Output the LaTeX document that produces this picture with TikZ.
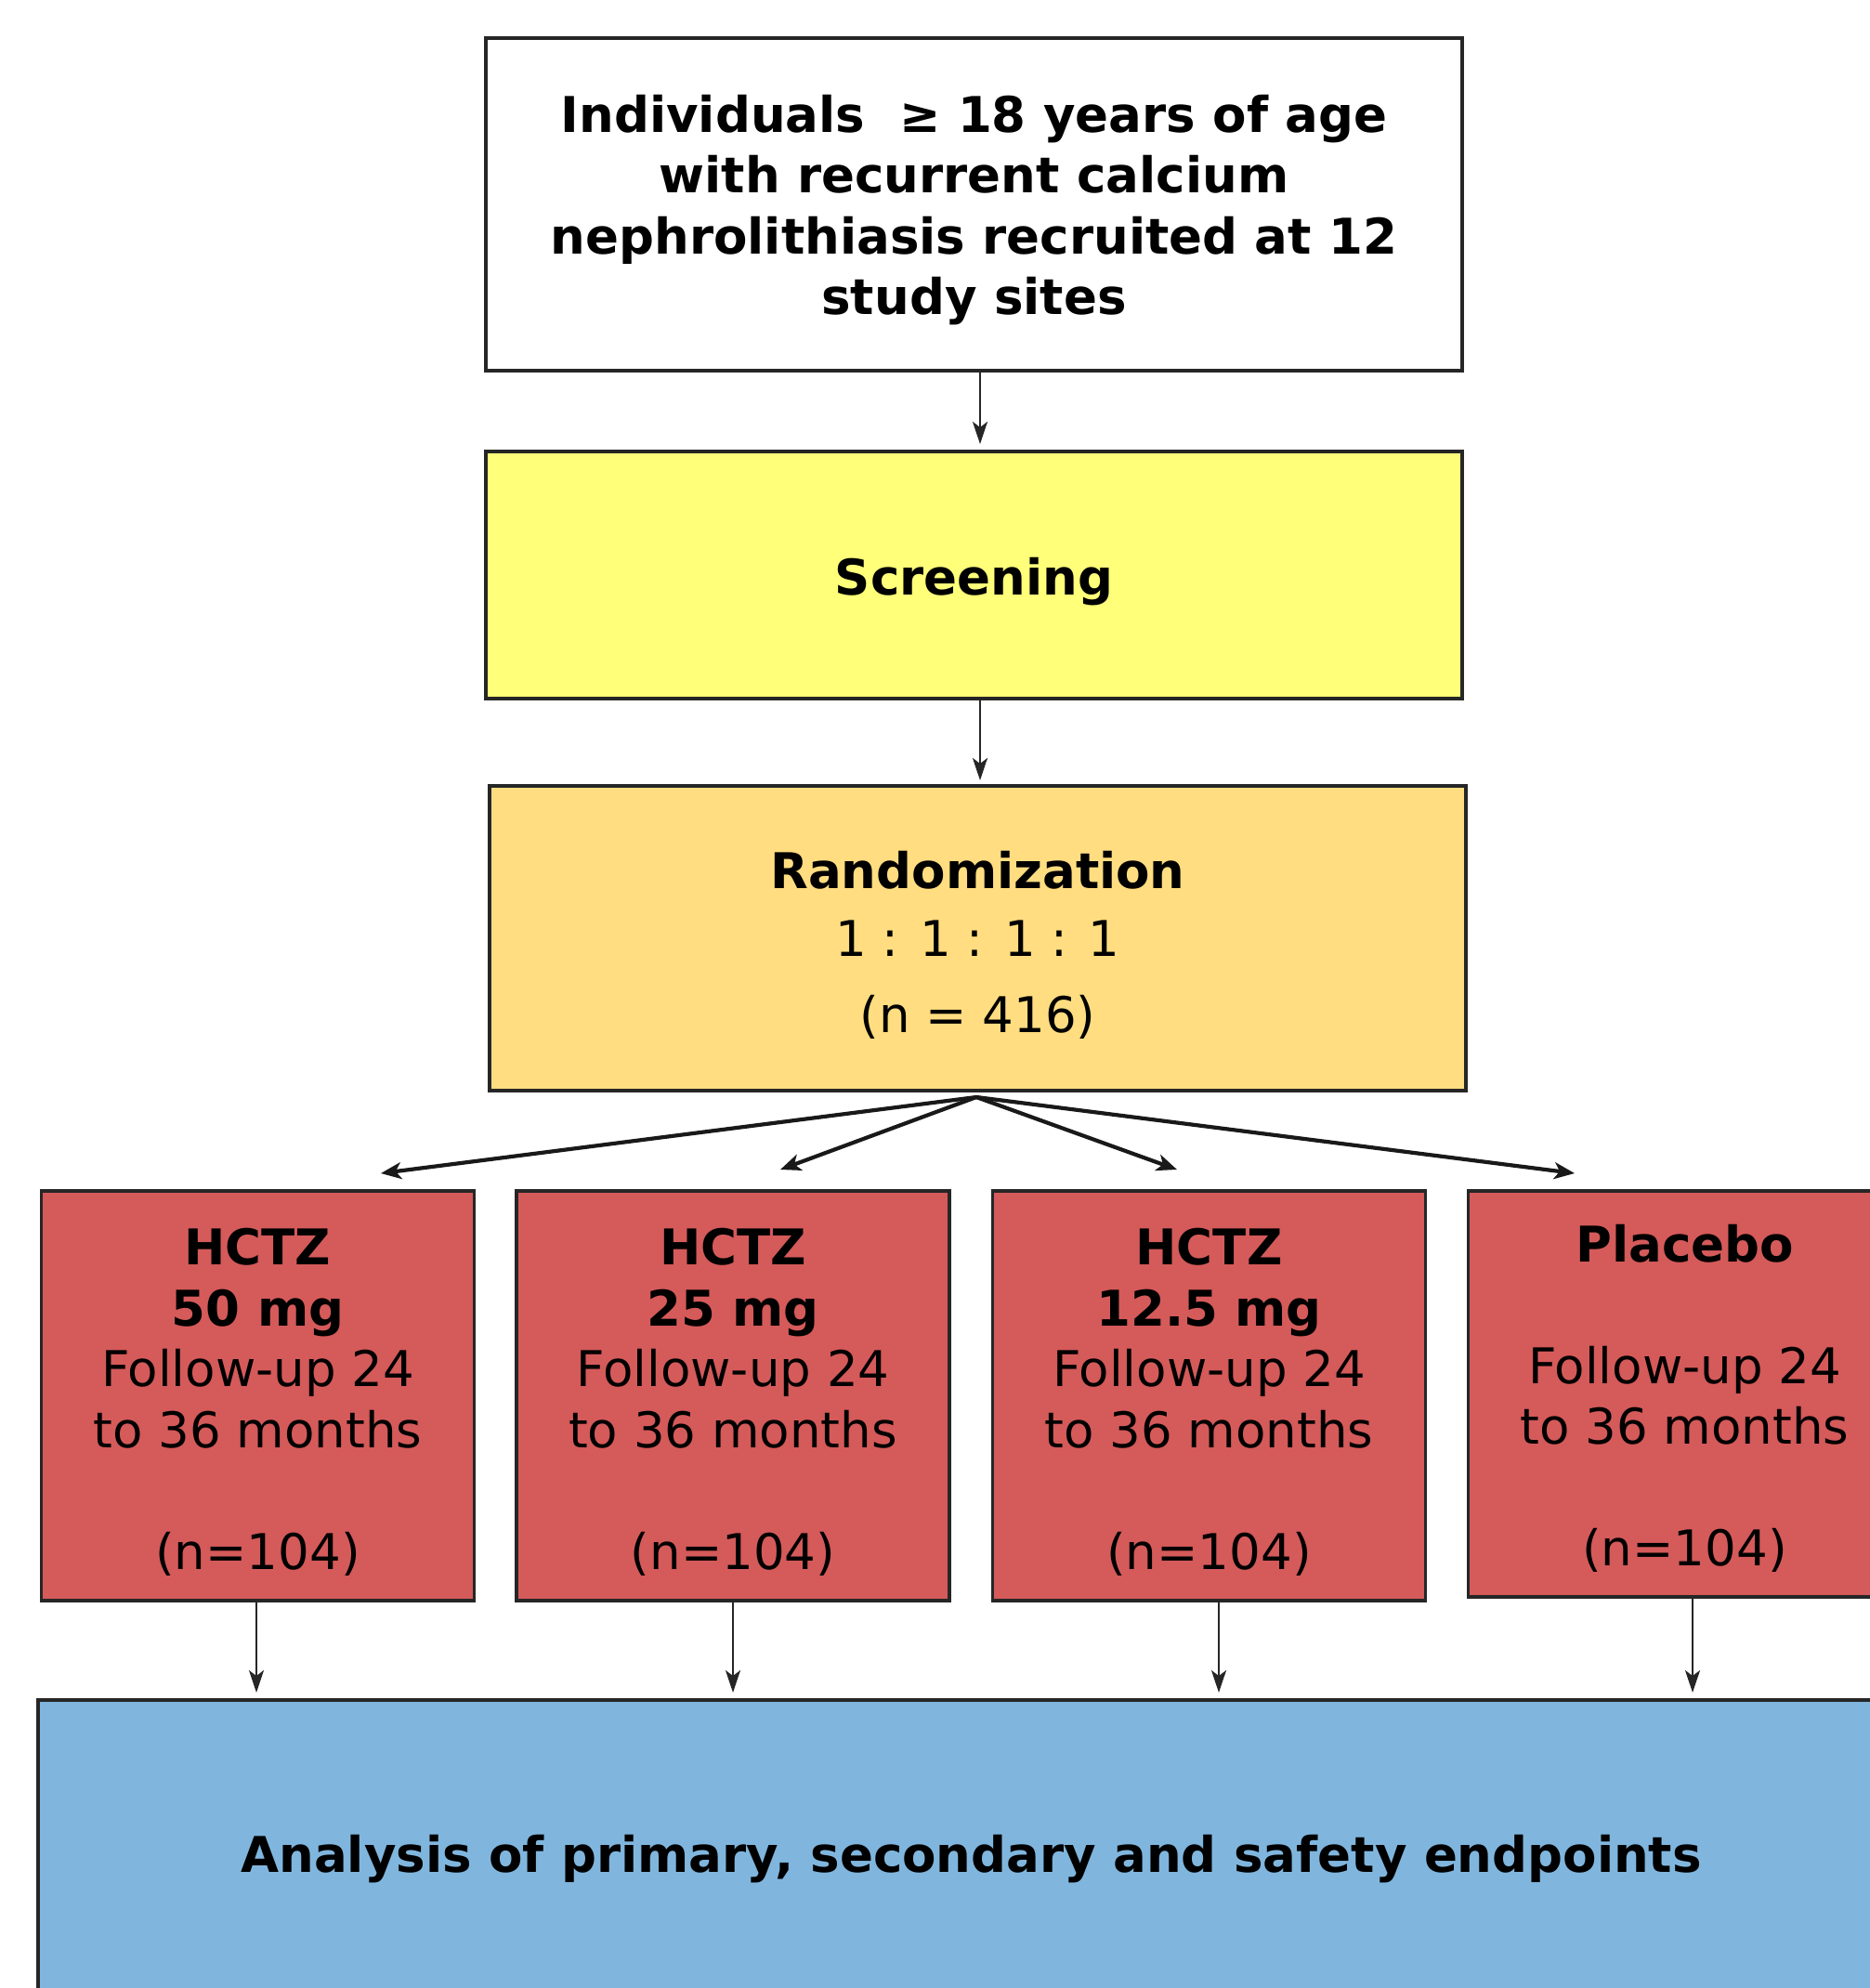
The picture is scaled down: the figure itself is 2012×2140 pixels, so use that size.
\documentclass[tikz,border=0pt]{standalone}
\usepackage{fontspec}
\setmainfont{DejaVu Sans}
\usetikzlibrary{arrows.meta}
\definecolor{yel}{RGB}{255,255,122}
\definecolor{ora}{RGB}{255,221,128}
\definecolor{redb}{RGB}{213,90,90}
\definecolor{blu}{RGB}{128,182,222}
\begin{document}
\begin{tikzpicture}[x=0.5pt,y=-0.5pt,
  box/.style={draw=black!85, line width=1.9pt, inner sep=0pt},
  txt/.style={align=center, inner sep=0pt, font=\fontsize{26.5}{32.75}\selectfont},
  btxt/.style={txt, font=\fontsize{26.5}{32.75}\selectfont\bfseries},
  arm/.style={box, fill=redb, minimum height=220.5pt, minimum width=233pt},
  arr/.style={-{Stealth[length=12pt,width=8pt,inset=3pt]}, line width=1.3pt, draw=black!85},
  farr/.style={-{Stealth[length=11pt,width=9pt,inset=3pt]}, line width=2.1pt, draw=black!90}]
\useasboundingbox (0,0) rectangle (2012,2140);

% boxes
\node[box, minimum width=525.5pt, minimum height=179pt] (top) at (1048.5,220) {};
\node[box, fill=yel, minimum width=525.5pt, minimum height=133pt] (scr) at (1048.5,619) {};
\node[box, fill=ora, minimum width=525.5pt, minimum height=164pt] (rnd) at (1052.5,1010) {};
\node[arm] (a1) at (277.5,1502.5) {};
\node[arm] (a2) at (789,1502.5) {};
\node[arm] (a3) at (1301.5,1502.5) {};
\node[arm, minimum height=218.5pt] (a4) at (1813.5,1500.5) {};
\node[box, fill=blu, minimum width=1004.5pt, minimum height=167pt] (ana) at (1045.5,1997) {};

% texts
\node[btxt] (topT) at ([yshift=-3pt]top.center) {Individuals \ ≥ 18 years of age\\with recurrent calcium\\nephrolithiasis recruited at 12\\study sites};
\node[btxt] (scrT) at ([yshift=-3.5pt]scr.center) {Screening};
\node[txt] (rndT) at ([yshift=-3.5pt]rnd.center) {\textbf{Randomization}\\[4pt]1 : 1 : 1 : 1\\[8pt](n = 416)};
\node[txt] (a1T) at ([yshift=-3.5pt]a1.center) {\textbf{HCTZ}\\\textbf{50 mg}\\Follow-up 24\\to 36 months\\[32.75pt](n=104)};
\node[txt] (a2T) at ([yshift=-3.5pt]a2.center) {\textbf{HCTZ}\\\textbf{25 mg}\\Follow-up 24\\to 36 months\\[32.75pt](n=104)};
\node[txt] (a3T) at ([yshift=-3.5pt]a3.center) {\textbf{HCTZ}\\\textbf{12.5 mg}\\Follow-up 24\\to 36 months\\[32.75pt](n=104)};
\node[txt] (a4T) at ([yshift=-2.5pt]a4.center) {\textbf{Placebo}\\[32.75pt]Follow-up 24\\to 36 months\\[32.75pt](n=104)};
\node[btxt] (anaT) at ([yshift=-2pt]ana.center) {Analysis of primary, secondary and safety endpoints};

% connectors
\coordinate (s1) at (1055,478);
\coordinate (s2) at (1055,840);
\draw[arr] (top.south -| s1) -- (s1);
\draw[arr] (scr.south -| s2) -- (s2);

\coordinate (fo) at (1051,1181);
\coordinate (t1) at (410,1263);
\coordinate (t2) at (840,1259);
\coordinate (t3) at (1267,1259);
\coordinate (t4) at (1695,1263);
\draw[farr] (fo) -- (t1);
\draw[farr] (fo) -- (t2);
\draw[farr] (fo) -- (t3);
\draw[farr] (fo) -- (t4);

\coordinate (e1) at (276,1822);
\coordinate (e2) at (789,1822);
\coordinate (e3) at (1312,1822);
\coordinate (e4) at (1822,1822);
\draw[arr] (a1.south -| e1) -- (e1);
\draw[arr] (a2.south -| e2) -- (e2);
\draw[arr] (a3.south -| e3) -- (e3);
\draw[arr] (a4.south -| e4) -- (e4);
\end{tikzpicture}
\end{document}
